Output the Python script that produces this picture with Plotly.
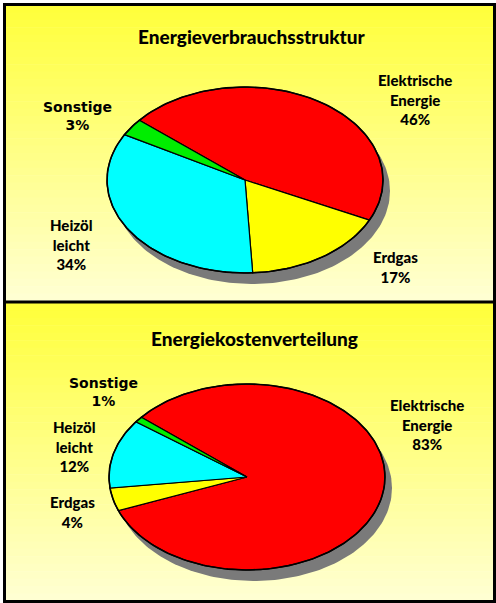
import numpy as np
import plotly.graph_objects as go

# ---------------- data ----------------
categories = ["Elektrische Energie", "Erdgas", "Heizöl leicht", "Sonstige"]
label_names = ["Elektrische<br>Energie", "Erdgas", "Heizöl<br>leicht", "Sonstige"]
verbrauch = [46, 17, 34, 3]
kosten = [83, 4, 12, 1]
titles = ["Energieverbrauchsstruktur", "Energiekostenverteilung"]

# ---------------- styling / layout ----------------
W, H = 496, 603
colors = ["#FF0000", "#FFFF00", "#00FFFF", "#00EE00"]
START_DEG = 140.0

panels = [
    dict(values=verbrauch, title=titles[0], cx=245, cy=180, rx=138, ry=93,
         title_xy=(251, 36),
         label_xy=[(415, 99.5), (395, 267), (71, 244.5), (77, 115.5)]),
    dict(values=kosten, title=titles[1], cx=247, cy=477, rx=138, ry=93,
         title_xy=(254, 338),
         label_xy=[(427, 424), (72, 511.5), (74, 446), (103, 392)]),
]
panel_bounds = [(5, 301), (303, 601)]
SHADOW = (7, 11)

fig = go.Figure()
shapes = []

# background gradient bands (yellow at top -> pale at bottom)
for (y0, y1) in panel_bounds:
    n = 40
    edges = np.linspace(y0, y1, n + 1)
    for i in range(n):
        f = i / (n - 1)
        b = int(60 + f * 150)
        shapes.append(dict(type="rect", xref="x", yref="y", x0=4, x1=494,
                           y0=edges[i], y1=edges[i + 1] + 0.5,
                           fillcolor=f"rgb(255,255,{b})", line=dict(width=0),
                           layer="below"))


def ellipse_pts(cx, cy, rx, ry, t0, t1, n):
    t = np.radians(np.linspace(t0, t1, n))
    return cx + rx * np.cos(t), cy - ry * np.sin(t)


annotations = []
for p in panels:
    cx, cy, rx, ry = p["cx"], p["cy"], p["rx"], p["ry"]
    # shadow
    sx, sy = ellipse_pts(cx + SHADOW[0], cy + SHADOW[1], rx, ry, 0, 360, 240)
    fig.add_trace(go.Scatter(x=sx, y=sy, mode="lines", fill="toself",
                             fillcolor="#7a7a7a", line=dict(width=0, color="#7a7a7a"),
                             hoverinfo="skip", showlegend=False))
    vals = np.array(p["values"], dtype=float)
    angles = vals / vals.sum() * 360.0
    t = START_DEG
    for v, a, c, cat in zip(vals, angles, colors, categories):
        n = max(3, int(a * 1.2))
        ex, ey = ellipse_pts(cx, cy, rx, ry, t, t - a, n)
        xs = np.concatenate([[cx], ex, [cx]])
        ys = np.concatenate([[cy], ey, [cy]])
        fig.add_trace(go.Scatter(x=xs, y=ys, mode="lines", fill="toself",
                                 fillcolor=c, line=dict(width=1.2, color="black"),
                                 name=cat, hoverinfo="name", showlegend=False))
        t -= a
    # outline
    ox, oy = ellipse_pts(cx, cy, rx, ry, 0, 360, 240)
    fig.add_trace(go.Scatter(x=ox, y=oy, mode="lines",
                             line=dict(width=1.6, color="black"),
                             hoverinfo="skip", showlegend=False))
    # title
    annotations.append(dict(x=p["title_xy"][0], y=p["title_xy"][1], xref="x", yref="y",
                            text=p["title"], showarrow=False,
                            font=dict(family="Lato", size=19, color="black", weight=900)))
    # labels
    for i, (nm, v, (lx, ly)) in enumerate(zip(label_names, p["values"], p["label_xy"])):
        if i == 3:
            fnt = dict(family="DejaVu Sans", size=14, color="black", weight=700)
        else:
            fnt = dict(family="Lato", size=15, color="black", weight=900)
        annotations.append(dict(x=lx, y=ly, xref="x", yref="y",
                                text=f"{nm}<br>{v}%", showarrow=False,
                                align="center", xanchor="center", yanchor="middle",
                                font=fnt))

# frame and divider
shapes.append(dict(type="rect", xref="x", yref="y", x0=4.5, x1=494.5, y0=4.5, y1=601.5,
                   line=dict(color="black", width=3), fillcolor="rgba(0,0,0,0)", layer="above"))
shapes.append(dict(type="line", xref="x", yref="y", x0=4.5, x1=494.5, y0=302, y1=302,
                   line=dict(color="black", width=3), layer="above"))

fig.update_layout(
    width=W, height=H,
    margin=dict(l=0, r=0, t=0, b=0),
    paper_bgcolor="white", plot_bgcolor="white",
    xaxis=dict(range=[0, W], visible=False, fixedrange=True),
    yaxis=dict(range=[H, 0], visible=False, fixedrange=True),
    shapes=shapes, annotations=annotations,
    showlegend=False,
)

fig.write_html("out.html", config=dict(displayModeBar=False),
               post_script="document.body.style.margin='0';document.body.style.overflow='hidden';")
